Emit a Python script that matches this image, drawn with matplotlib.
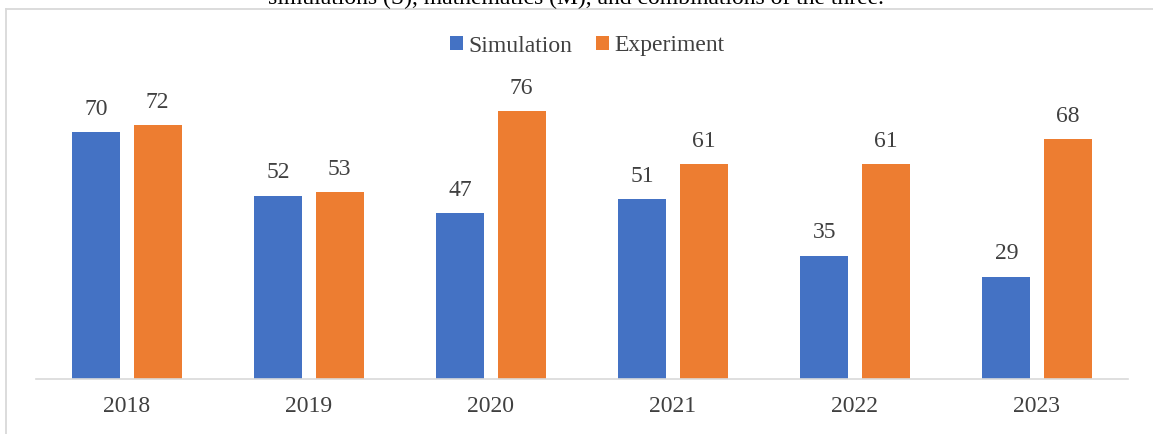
import matplotlib.pyplot as plt
from matplotlib.lines import Line2D
import numpy as np

plt.rcParams['font.family'] = ['Liberation Serif', 'DejaVu Serif']

years = ['2018', '2019', '2020', '2021', '2022', '2023']
simulation = [70, 52, 47, 51, 35, 29]
experiment = [72, 53, 76, 61, 61, 68]

blue = '#4472C4'
orange = '#ED7D31'
grey_text = '#404040'
frame_col = '#D9D9D9'

W, H = 1153, 434
fig = plt.figure(figsize=(W / 100, H / 100), dpi=100)
ax = fig.add_axes([36 / W, 55 / H, (1128 - 36) / W, (379 - 90) / H])

x = np.arange(len(years))
bw = 0.264
off = 0.168
b1 = ax.bar(x - off, simulation, bw, color=blue, label='Simulation')
b2 = ax.bar(x + off, experiment, bw, color=orange, label='Experiment')

for bars, vals in ((b1, simulation), (b2, experiment)):
    for rect, v in zip(bars, vals):
        ax.annotate(str(v), (rect.get_x() + rect.get_width() / 2, v),
                    xytext=(0, 9), textcoords='offset points',
                    ha='center', va='bottom', fontsize=17, color=grey_text)

ax.set_xlim(-0.5, 5.5)
ax.set_ylim(0, 82)
ax.set_xticks(x)
ax.set_xticklabels(years, fontsize=17, color=grey_text)
ax.tick_params(axis='x', length=0, pad=12)
ax.set_yticks([])
for s in ('top', 'right', 'left'):
    ax.spines[s].set_visible(False)
ax.spines['bottom'].set_color(frame_col)
ax.spines['bottom'].set_linewidth(1.2)

fig.legend(handles=[b1, b2], loc='center', bbox_to_anchor=(587 / W, 1 - 46 / H),
           ncol=2, frameon=False, fontsize=17, labelcolor=grey_text,
           handlelength=0.55, handleheight=0.55, handletextpad=0.22,
           columnspacing=1.0)

# outer chart frame (top and left edges)
fig.add_artist(Line2D([6 / W, 1], [1 - 8.5 / H, 1 - 8.5 / H], color=frame_col, lw=1.3))
fig.add_artist(Line2D([6 / W, 6 / W], [0, 1 - 8.5 / H], color=frame_col, lw=1.3))

# caption line above the frame
fig.text(576 / W, 1 - 4 / H,
         'simulations (S), mathematics (M), and combinations of the three.',
         ha='center', va='baseline', fontsize=17, color='black')

fig.savefig('out.png', dpi=100)
